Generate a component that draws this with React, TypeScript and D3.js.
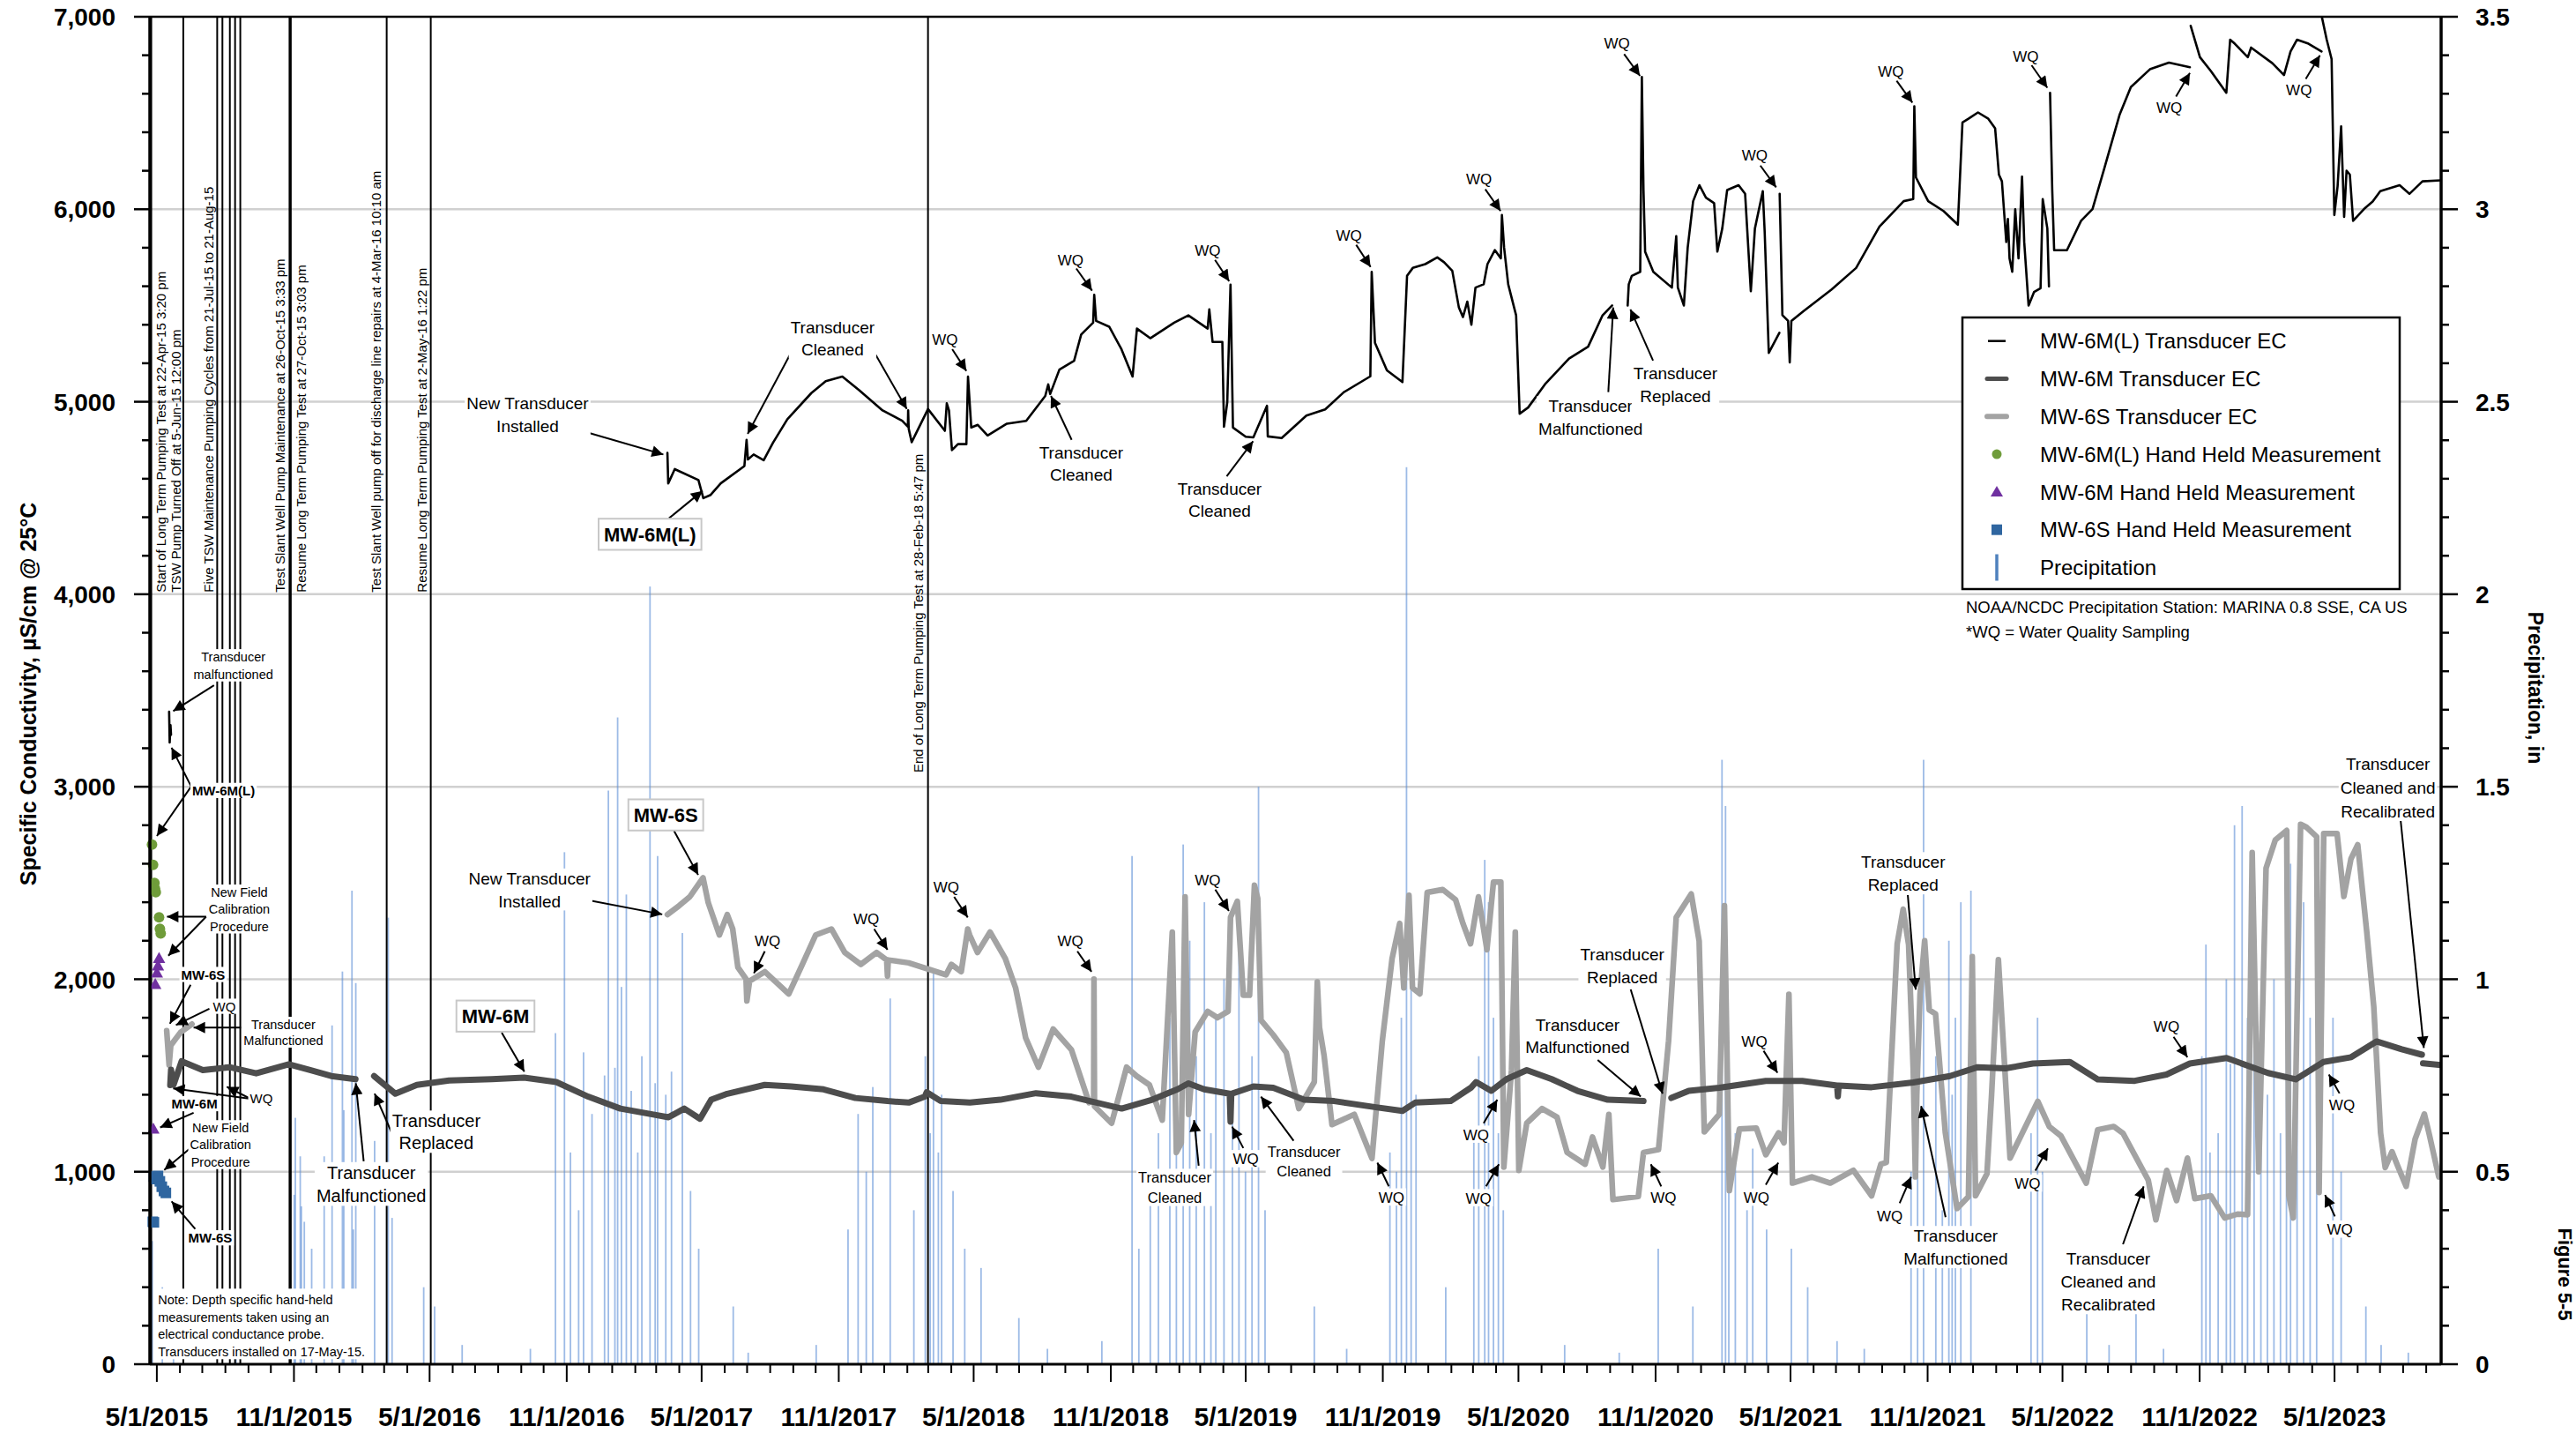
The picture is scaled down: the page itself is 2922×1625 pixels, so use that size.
import React from "react";
import * as d3 from "d3";

type P = [number, number] | null;

// ---------- DATA (dates as decimal years) ----------
const MW6ML_EC: P[] = [
  [2015.374, 3390], [2015.376, 3230], [2015.379, 3320], [2015.381, 3270], null,
  [2017.203, 4734], [2017.206, 4576], [2017.230, 4650], [2017.317, 4593], [2017.335, 4499], [2017.362, 4516],
  [2017.399, 4576], [2017.486, 4666], [2017.494, 4802], [2017.499, 4700], [2017.520, 4726], [2017.557, 4696],
  [2017.591, 4787], [2017.644, 4909], [2017.732, 5045], [2017.785, 5107], [2017.846, 5131], [2017.907, 5061],
  [2017.994, 4955], [2018.066, 4901], [2018.087, 4870], [2018.088, 4955], [2018.090, 4860], [2018.101, 4790],
  [2018.161, 4962], [2018.223, 4849], [2018.230, 4992], [2018.238, 4955], [2018.249, 4749], [2018.271, 4780],
  [2018.302, 4780], [2018.308, 5131], [2018.320, 4866], [2018.344, 4880], [2018.380, 4825], [2018.451, 4886],
  [2018.522, 4901], [2018.592, 5030], [2018.603, 5090], [2018.610, 5040], [2018.644, 5167], [2018.698, 5213],
  [2018.724, 5349], [2018.768, 5411], [2018.772, 5555], [2018.779, 5420], [2018.827, 5390], [2018.872, 5273],
  [2018.913, 5131], [2018.929, 5380], [2018.978, 5330], [2019.066, 5411], [2019.118, 5449], [2019.189, 5380],
  [2019.195, 5480], [2019.207, 5311], [2019.243, 5311], [2019.249, 4870], [2019.261, 4997], [2019.273, 5608],
  [2019.282, 4866], [2019.329, 4818], [2019.357, 4815], [2019.407, 4979], [2019.410, 4820], [2019.461, 4811],
  [2019.552, 4928], [2019.621, 4960], [2019.690, 5050], [2019.787, 5132], [2019.792, 5675], [2019.804, 5306],
  [2019.848, 5163], [2019.905, 5102], [2019.922, 5654], [2019.943, 5695], [2019.989, 5715], [2020.033, 5750],
  [2020.058, 5725], [2020.088, 5680], [2020.112, 5491], [2020.127, 5440], [2020.143, 5520], [2020.158, 5400],
  [2020.173, 5593], [2020.203, 5610], [2020.217, 5715], [2020.244, 5788], [2020.266, 5745], [2020.270, 5970],
  [2020.278, 5800], [2020.293, 5610], [2020.322, 5449], [2020.335, 4938], [2020.366, 4970], [2020.428, 5091],
  [2020.516, 5224], [2020.586, 5286], [2020.639, 5449], [2020.674, 5500], null,
  [2020.731, 5500], [2020.735, 5610], [2020.746, 5654], [2020.777, 5675], [2020.783, 6687], [2020.789, 6100],
  [2020.795, 5779], [2020.825, 5675], [2020.893, 5593], [2020.909, 5860], [2020.915, 5593], [2020.937, 5500],
  [2020.951, 5800], [2020.971, 6042], [2020.994, 6125], [2021.018, 6060], [2021.048, 6032], [2021.060, 5780],
  [2021.078, 5900], [2021.096, 6100], [2021.138, 6125], [2021.162, 6080], [2021.183, 5574], [2021.198, 5900],
  [2021.227, 6094], [2021.234, 5880], [2021.249, 5254], [2021.288, 5358], null,
  [2021.289, 6080], [2021.299, 5450], [2021.320, 5420], [2021.326, 5204], [2021.332, 5420], [2021.376, 5470],
  [2021.480, 5583], [2021.570, 5695], [2021.656, 5910], [2021.745, 6042], [2021.780, 6053], [2021.784, 6535],
  [2021.790, 6165], [2021.835, 6042], [2021.891, 5991], [2021.944, 5920], [2021.961, 6451], [2021.983, 6470],
  [2022.018, 6503], [2022.056, 6470], [2022.081, 6421], [2022.095, 6180], [2022.106, 6145], [2022.122, 5830],
  [2022.128, 5950], [2022.134, 5745], [2022.144, 5675], [2022.155, 6000], [2022.167, 5745], [2022.180, 6170],
  [2022.188, 5830], [2022.204, 5500], [2022.224, 5570], [2022.248, 5590], [2022.256, 6053], [2022.273, 5900],
  [2022.279, 5600], null,
  [2022.283, 6605], [2022.291, 6100], [2022.298, 5787], [2022.345, 5787], [2022.397, 5940], [2022.439, 6001],
  [2022.482, 6210], [2022.539, 6493], [2022.580, 6635], [2022.650, 6727], [2022.720, 6762], [2022.797, 6738], null,
  [2022.800, 6953], [2022.834, 6790], [2022.874, 6718], [2022.931, 6605], [2022.945, 6881], [2022.962, 6860],
  [2023.010, 6790], [2023.022, 6840], [2023.100, 6759], [2023.143, 6697], [2023.167, 6820], [2023.191, 6881],
  [2023.233, 6860], [2023.281, 6820], null,
  [2023.282, 7000], [2023.300, 6881], [2023.318, 6780], [2023.328, 5970], [2023.340, 6120], [2023.353, 6431],
  [2023.364, 5960], [2023.373, 6200], [2023.385, 6180], [2023.397, 5940], [2023.437, 6001], [2023.469, 6040],
  [2023.497, 6094], [2023.568, 6125], [2023.604, 6080], [2023.652, 6145], [2023.720, 6150],
];

const MW6M_EC: P[] = [
  [2015.378, 1450], [2015.381, 1530], [2015.390, 1451], [2015.420, 1574], [2015.498, 1528], [2015.596, 1543],
  [2015.694, 1511], [2015.814, 1558], [2015.892, 1528], [2015.970, 1497], [2016.059, 1481], null,
  [2016.127, 1497], [2016.166, 1451], [2016.205, 1405], [2016.284, 1451], [2016.402, 1474], [2016.559, 1481],
  [2016.677, 1489], [2016.795, 1466], [2016.912, 1390], [2017.030, 1328], [2017.147, 1298], [2017.207, 1283],
  [2017.265, 1328], [2017.323, 1275], [2017.364, 1374], [2017.423, 1405], [2017.561, 1451], [2017.658, 1443],
  [2017.777, 1428], [2017.894, 1383], [2018.012, 1367], [2018.090, 1359], [2018.149, 1390], [2018.156, 1413],
  [2018.208, 1367], [2018.315, 1359], [2018.427, 1374], [2018.558, 1408], [2018.688, 1390], [2018.873, 1328],
  [2018.985, 1374], [2019.078, 1428], [2019.118, 1459], [2019.176, 1428], [2019.270, 1405], [2019.273, 1260],
  [2019.276, 1405], [2019.357, 1443], [2019.430, 1436], [2019.543, 1374], [2019.654, 1367], [2019.802, 1336],
  [2019.905, 1316], [2019.952, 1359], [2020.082, 1367], [2020.156, 1436], [2020.175, 1466], [2020.231, 1420],
  [2020.287, 1481], [2020.361, 1528], [2020.453, 1481], [2020.547, 1420], [2020.658, 1374], [2020.789, 1367], null,
  [2020.891, 1383], [2020.955, 1420], [2021.067, 1436], [2021.238, 1472], [2021.372, 1472], [2021.500, 1448],
  [2021.503, 1391], [2021.506, 1448], [2021.627, 1439], [2021.780, 1464], [2021.915, 1497], [2022.017, 1543],
  [2022.119, 1537], [2022.220, 1562], [2022.356, 1570], [2022.458, 1480], [2022.594, 1472], [2022.711, 1505],
  [2022.797, 1562], [2022.932, 1591], [2023.084, 1513], [2023.186, 1480], [2023.288, 1570], [2023.390, 1595],
  [2023.483, 1677], [2023.576, 1636], [2023.650, 1608], null,
  [2023.654, 1563], [2023.720, 1554],
];

const MW6S_EC: P[] = [
  [2015.365, 1733], [2015.374, 1554], [2015.380, 1656], [2015.416, 1724], [2015.458, 1767], null,
  [2017.203, 2336], [2017.246, 2382], [2017.285, 2428], [2017.334, 2527], [2017.353, 2398], [2017.394, 2230],
  [2017.423, 2336], [2017.443, 2261], [2017.462, 2062], [2017.492, 2001], [2017.495, 1887], [2017.505, 1990],
  [2017.561, 2039], [2017.649, 1924], [2017.699, 2077], [2017.748, 2230], [2017.806, 2261], [2017.855, 2139],
  [2017.914, 2077], [2017.972, 2139], [2018.009, 2100], [2018.012, 2016], [2018.015, 2100], [2018.090, 2085],
  [2018.227, 2023], [2018.247, 2077], [2018.283, 2039], [2018.307, 2261], [2018.314, 2230], [2018.343, 2139],
  [2018.389, 2245], [2018.445, 2108], [2018.483, 1955], [2018.520, 1695], [2018.567, 1543], [2018.621, 1741],
  [2018.688, 1634], [2018.753, 1359], [2018.770, 1370], [2018.771, 2001], [2018.773, 1340], [2018.836, 1252],
  [2018.891, 1543], [2018.928, 1497], [2018.975, 1451], [2019.022, 1268], [2019.059, 2245], [2019.074, 1100],
  [2019.092, 1150], [2019.106, 2428], [2019.119, 1298], [2019.143, 1726], [2019.189, 1833], [2019.225, 1800],
  [2019.264, 1833], [2019.273, 2321], [2019.298, 2405], [2019.320, 1917], [2019.343, 1917], [2019.361, 2489],
  [2019.373, 2420], [2019.385, 1787], [2019.430, 1711], [2019.478, 1619], [2019.524, 1328], [2019.581, 1466],
  [2019.592, 1986], [2019.600, 1750], [2019.617, 1603], [2019.646, 1245], [2019.728, 1298], [2019.793, 1069],
  [2019.831, 1680], [2019.867, 2108], [2019.895, 2290], [2019.910, 1955], [2019.929, 2436], [2019.942, 1955],
  [2019.969, 1924], [2019.996, 2451], [2020.053, 2466], [2020.100, 2413], [2020.127, 2290], [2020.155, 2184],
  [2020.184, 2428], [2020.215, 2153], [2020.239, 2505], [2020.266, 2505], [2020.277, 1024], [2020.305, 1527],
  [2020.319, 2245], [2020.332, 1007], [2020.361, 1252], [2020.417, 1328], [2020.472, 1283], [2020.509, 1100],
  [2020.575, 1039], [2020.602, 1180], [2020.640, 1024], [2020.662, 1298], [2020.677, 855], [2020.770, 871],
  [2020.789, 1100], [2020.844, 1115], [2020.881, 1680], [2020.909, 2321], [2020.964, 2443], [2020.993, 2199],
  [2021.012, 1207], [2021.067, 1298], [2021.086, 2382], [2021.104, 902], [2021.141, 1222], [2021.203, 1227],
  [2021.238, 1088], [2021.285, 1202], [2021.305, 1150], [2021.323, 1922], [2021.336, 941], [2021.407, 973],
  [2021.475, 941], [2021.560, 1007], [2021.627, 875], [2021.661, 1039], [2021.681, 1048], [2021.721, 2184],
  [2021.743, 2364], [2021.763, 2180], [2021.780, 1529], [2021.788, 973], [2021.793, 1400], [2021.805, 1922],
  [2021.822, 2200], [2021.839, 1840], [2021.862, 1820], [2021.898, 1202], [2021.941, 809], [2021.983, 870],
  [2021.997, 2118], [2022.009, 875], [2022.051, 989], [2022.068, 1400], [2022.093, 2102], [2022.136, 1071],
  [2022.238, 1366], [2022.280, 1235], [2022.323, 1186], [2022.416, 941], [2022.458, 1218], [2022.517, 1235],
  [2022.551, 1200], [2022.644, 956], [2022.672, 750], [2022.712, 1007], [2022.748, 850], [2022.788, 1071],
  [2022.815, 860], [2022.874, 875], [2022.925, 760], [2022.972, 780], [2023.009, 777], [2023.026, 2658],
  [2023.050, 1000], [2023.077, 2577], [2023.111, 2724], [2023.153, 2773], [2023.161, 875], [2023.177, 760],
  [2023.204, 2805], [2023.225, 2790], [2023.263, 2740], [2023.272, 892], [2023.289, 2757], [2023.338, 2757],
  [2023.363, 2430], [2023.389, 2625], [2023.414, 2699], [2023.447, 2249], [2023.473, 1857], [2023.498, 1202],
  [2023.515, 1022], [2023.540, 1104], [2023.561, 1030], [2023.592, 924], [2023.625, 1170], [2023.659, 1300],
  [2023.676, 1200], [2023.712, 973],
];

const MW6ML_HAND: [number, number][] = [
  [2015.311, 2699], [2015.315, 2594], [2015.320, 2500], [2015.322, 2470], [2015.325, 2452],
  [2015.337, 2322], [2015.340, 2262], [2015.343, 2238],
];
const MW6M_HAND: [number, number][] = [
  [2015.337, 2110], [2015.333, 2071], [2015.329, 2034], [2015.323, 1974], [2015.316, 1223],
];
const MW6S_HAND: [number, number][] = [
  [2015.318, 975], [2015.325, 962], [2015.333, 978], [2015.340, 950], [2015.347, 922],
  [2015.355, 900], [2015.362, 890], [2015.314, 740], [2015.318, 737],
];

const PRECIP: [number, number][] = [
  [2015.312, 0.32], [2015.349, 0.2], [2015.39, 0.03], [2015.62, 0.02], [2015.834, 0.44], [2015.838, 0.64],
  [2015.856, 0.54], [2015.860, 0.41], [2015.871, 0.37], [2015.898, 0.3], [2015.944, 0.54], [2015.973, 0.88],
  [2016.011, 1.02], [2016.016, 0.66], [2016.046, 1.23], [2016.051, 0.35], [2016.060, 0.99], [2016.129, 0.58],
  [2016.179, 1.16], [2016.193, 0.38], [2016.309, 0.2], [2016.349, 0.15], [2016.45, 0.05], [2016.70, 0.04],
  [2016.792, 0.86], [2016.825, 1.33], [2016.847, 0.55], [2016.877, 0.4], [2016.895, 0.81], [2016.926, 0.65],
  [2016.972, 0.75], [2016.986, 1.49], [2017.010, 0.77], [2017.020, 1.68], [2017.034, 0.98], [2017.052, 1.22],
  [2017.070, 0.71], [2017.094, 0.55], [2017.109, 0.8], [2017.139, 2.02], [2017.158, 0.73], [2017.167, 1.32],
  [2017.197, 0.7], [2017.218, 0.76], [2017.258, 1.12], [2017.288, 0.45], [2017.318, 0.3], [2017.445, 0.15],
  [2017.50, 0.03], [2017.75, 0.05], [2017.867, 0.35], [2017.904, 0.65], [2017.934, 0.5], [2017.958, 0.72],
  [2018.022, 0.95], [2018.109, 0.4], [2018.151, 0.8], [2018.169, 0.6], [2018.181, 1.02], [2018.199, 0.55],
  [2018.211, 0.7], [2018.253, 0.45], [2018.296, 0.3], [2018.356, 0.25], [2018.495, 0.12], [2018.60, 0.04],
  [2018.80, 0.06], [2018.911, 1.32], [2018.936, 0.3], [2018.978, 0.45], [2019.008, 0.6], [2019.050, 0.9],
  [2019.074, 0.7], [2019.099, 1.35], [2019.123, 1.1], [2019.147, 0.8], [2019.177, 1.2], [2019.201, 0.6],
  [2019.219, 0.9], [2019.249, 1.0], [2019.280, 0.7], [2019.304, 1.1], [2019.328, 0.5], [2019.352, 0.8],
  [2019.376, 1.5], [2019.400, 0.4], [2019.581, 0.15], [2019.70, 0.04], [2019.859, 0.55], [2019.883, 0.5],
  [2019.901, 0.9], [2019.920, 2.33], [2019.937, 1.0], [2019.955, 0.7], [2020.064, 0.2], [2020.167, 0.6],
  [2020.185, 0.8], [2020.207, 1.31], [2020.221, 1.2], [2020.239, 0.9], [2020.257, 0.6], [2020.275, 0.4],
  [2020.50, 0.05], [2020.70, 0.03], [2020.843, 0.3], [2020.970, 0.15], [2021.077, 1.57], [2021.090, 1.45],
  [2021.102, 0.5], [2021.126, 0.6], [2021.169, 0.4], [2021.190, 0.56], [2021.241, 0.35], [2021.332, 0.3],
  [2021.392, 0.2], [2021.50, 0.06], [2021.60, 0.04], [2021.772, 0.5], [2021.796, 0.9], [2021.818, 1.57],
  [2021.863, 0.8], [2021.887, 0.4], [2021.911, 1.1], [2021.923, 0.7], [2021.935, 0.9], [2021.955, 1.2],
  [2021.992, 1.23], [2022.213, 0.6], [2022.237, 0.9], [2022.255, 0.5], [2022.418, 0.2], [2022.50, 0.05],
  [2022.599, 0.2], [2022.70, 0.04], [2022.841, 0.8], [2022.856, 1.09], [2022.871, 0.55], [2022.901, 0.6],
  [2022.931, 1.0], [2022.946, 0.78], [2022.961, 1.4], [2022.989, 1.45], [2023.009, 0.9], [2023.033, 1.2],
  [2023.058, 0.8], [2023.082, 0.7], [2023.106, 1.0], [2023.130, 0.6], [2023.152, 0.9], [2023.167, 1.3],
  [2023.191, 1.1], [2023.215, 1.2], [2023.239, 0.9], [2023.263, 0.7], [2023.323, 0.9], [2023.353, 0.5],
  [2023.444, 0.15], [2023.50, 0.05], [2023.60, 0.03],
];

type Ev = { date: string; w: number; label?: string; dx?: number; v?: number };
const EVENTS: Ev[] = [
  { date: "2015-04-22T15:20", w: 3.5, label: "Start of Long Term Pumping Test at 22-Apr-15 3:20 pm", dx: 12 },
  { date: "2015-06-05T12:00", w: 2, label: "TSW Pump Turned Off at 5-Jun-15 12:00 pm", dx: -8 },
  { date: "2015-07-21T00:00", w: 2, label: "Five TSW Maintenance Pumping Cycles from 21-Jul-15 to 21-Aug-15", dx: -9 },
  { date: "2015-07-28T00:00", w: 2 },
  { date: "2015-08-07T00:00", w: 2 },
  { date: "2015-08-14T00:00", w: 2 },
  { date: "2015-08-21T00:00", w: 2 },
  { date: "2015-10-26T15:33", w: 3, label: "Test Slant Well Pump Maintenance at 26-Oct-15 3:33 pm", dx: -11 },
  { date: "2015-10-27T15:03", w: 2, label: "Resume Long Term Pumping Test at 27-Oct-15 3:03 pm", dx: 12 },
  { date: "2016-03-04T10:10", w: 2, label: "Test Slant Well pump off for discharge line repairs at 4-Mar-16 10:10 am", dx: -11.5 },
  { date: "2016-05-02T13:22", w: 2, label: "Resume Long Term Pumping Test at 2-May-16 1:22 pm", dx: -10 },
  { date: "2018-02-28T17:47", w: 2, label: "End of Long Term Pumping Test at 28-Feb-18 5:47 pm", dx: -11, v: 3074 },
];

type Ann = { t: number; v: number; lines: string[]; size: number; bold?: boolean; box?: boolean; lh?: number; arrows?: number[][] };
const ANNOTATIONS: Ann[] = [
  { t: 2015.610, v: 3675, lines: ["Transducer", "malfunctioned"], size: 14.5, lh: 20, arrows: [[2015.539, 3527, 2015.389, 3393]] },
  { t: 2015.574, v: 2979, lines: ["MW-6M(L)"], size: 15, bold: true, arrows: [[2015.455, 3001, 2015.383, 3203], [2015.455, 3001, 2015.329, 2744]] },
  { t: 2015.632, v: 2452, lines: ["New Field", "Calibration", "Procedure"], size: 14.5, lh: 19.4, arrows: [[2015.510, 2325, 2015.366, 2325], [2015.510, 2325, 2015.371, 2122]] },
  { t: 2015.499, v: 2023, lines: ["MW-6S"], size: 15, bold: true, arrows: [[2015.453, 1971, 2015.377, 1769]] },
  { t: 2015.577, v: 1858, lines: ["WQ"], size: 15, arrows: [[2015.522, 1847, 2015.399, 1762]] },
  { t: 2015.794, v: 1765, lines: ["Transducer", "Malfunctioned"], size: 14.5, lh: 18.3, arrows: [[2015.638, 1749, 2015.464, 1749]] },
  { t: 2015.713, v: 1379, lines: ["WQ"], size: 15, arrows: [[2015.673, 1379, 2015.389, 1433], [2015.673, 1379, 2015.586, 1441]] },
  { t: 2015.467, v: 1352, lines: ["MW-6M"], size: 15, bold: true, arrows: [[2015.464, 1306, 2015.341, 1230]] },
  { t: 2015.563, v: 1228, lines: ["New Field", "Calibration", "Procedure"], size: 14.5, lh: 19.4, arrows: [[2015.447, 1117, 2015.356, 1009]] },
  { t: 2015.525, v: 655, lines: ["MW-6S"], size: 15, bold: true, arrows: [[2015.470, 703, 2015.383, 846]] },
  { t: 2016.117, v: 995, lines: ["Transducer", "Malfunctioned"], size: 20, lh: 26.6, arrows: [[2016.089, 1054, 2016.060, 1460]] },
  { t: 2016.355, v: 1263, lines: ["Transducer", "Replaced"], size: 20, lh: 25, arrows: [[2016.193, 1198, 2016.129, 1406]] },
  { t: 2016.690, v: 4994, lines: ["New Transducer", "Installed"], size: 19, lh: 26, arrows: [[2016.871, 4856, 2017.188, 4726]] },
  { t: 2017.810, v: 5388, lines: ["Transducer", "Cleaned"], size: 19, lh: 25, arrows: [[2017.653, 5243, 2017.498, 4833], [2017.969, 5243, 2018.083, 4962]] },
  { t: 2017.139, v: 4309, lines: ["MW-6M(L)"], size: 22, bold: true, box: true, arrows: [[2017.209, 4395, 2017.332, 4537]] },
  { t: 2018.223, v: 5322, lines: ["WQ"], size: 17, arrows: [[2018.250, 5273, 2018.302, 5160]] },
  { t: 2018.685, v: 5737, lines: ["WQ"], size: 17, arrows: [[2018.706, 5692, 2018.764, 5577]] },
  { t: 2018.724, v: 4737, lines: ["Transducer", "Cleaned"], size: 19, lh: 25, arrows: [[2018.689, 4802, 2018.613, 5030]] },
  { t: 2019.189, v: 5788, lines: ["WQ"], size: 17, arrows: [[2019.216, 5737, 2019.268, 5626]] },
  { t: 2019.233, v: 4546, lines: ["Transducer", "Cleaned"], size: 19, lh: 25, arrows: [[2019.259, 4613, 2019.356, 4795]] },
  { t: 2019.708, v: 5865, lines: ["WQ"], size: 17, arrows: [[2019.735, 5815, 2019.788, 5700]] },
  { t: 2020.186, v: 6159, lines: ["WQ"], size: 17, arrows: [[2020.209, 6104, 2020.265, 5991]] },
  { t: 2020.692, v: 6864, lines: ["WQ"], size: 17, arrows: [[2020.718, 6806, 2020.776, 6693]] },
  { t: 2020.595, v: 4976, lines: ["Transducer", "Malfunctioned"], size: 19, lh: 26, arrows: [[2020.660, 5050, 2020.678, 5490]] },
  { t: 2020.906, v: 5147, lines: ["Transducer", "Replaced"], size: 19, lh: 25.5, arrows: [[2020.824, 5214, 2020.741, 5480]] },
  { t: 2021.197, v: 6279, lines: ["WQ"], size: 17, arrows: [[2021.218, 6227, 2021.276, 6114]] },
  { t: 2021.698, v: 6718, lines: ["WQ"], size: 17, arrows: [[2021.719, 6667, 2021.777, 6554]] },
  { t: 2022.194, v: 6795, lines: ["WQ"], size: 17, arrows: [[2022.215, 6748, 2022.273, 6631]] },
  { t: 2022.721, v: 6529, lines: ["WQ"], size: 17, arrows: [[2022.746, 6585, 2022.797, 6708]] },
  { t: 2023.198, v: 6620, lines: ["WQ"], size: 17, arrows: [[2023.223, 6677, 2023.275, 6800]] },
  { t: 2017.197, v: 2851, lines: ["MW-6S"], size: 22, bold: true, box: true, arrows: [[2017.227, 2772, 2017.316, 2542]] },
  { t: 2016.697, v: 2523, lines: ["New Transducer", "Installed"], size: 19, lh: 25.7, arrows: [[2016.903, 2413, 2017.184, 2337]] },
  { t: 2017.571, v: 2197, lines: ["WQ"], size: 17, arrows: [[2017.561, 2145, 2017.521, 2031]] },
  { t: 2017.934, v: 2313, lines: ["WQ"], size: 17, arrows: [[2017.963, 2261, 2018.012, 2153]] },
  { t: 2018.228, v: 2478, lines: ["WQ"], size: 17, arrows: [[2018.257, 2428, 2018.307, 2321]] },
  { t: 2016.572, v: 1806, lines: ["MW-6M"], size: 22, bold: true, box: true, arrows: [[2016.595, 1723, 2016.678, 1520]] },
  { t: 2018.684, v: 2199, lines: ["WQ"], size: 17, arrows: [[2018.710, 2145, 2018.762, 2039]] },
  { t: 2019.189, v: 2516, lines: ["WQ"], size: 17, arrows: [[2019.217, 2466, 2019.267, 2355]] },
  { t: 2019.068, v: 970, lines: ["Transducer", "Cleaned"], size: 16.5, lh: 23.3, arrows: [[2019.156, 1031, 2019.139, 1268]] },
  { t: 2019.329, v: 1066, lines: ["WQ"], size: 17, arrows: [[2019.320, 1123, 2019.279, 1234]] },
  { t: 2019.543, v: 1104, lines: ["Transducer", "Cleaned"], size: 16.5, lh: 22.6, arrows: [[2019.505, 1161, 2019.385, 1390]] },
  { t: 2019.865, v: 867, lines: ["WQ"], size: 17, arrows: [[2019.855, 924, 2019.813, 1047]] },
  { t: 2020.175, v: 1193, lines: ["WQ"], size: 17, arrows: [[2020.203, 1252, 2020.253, 1374]] },
  { t: 2020.184, v: 863, lines: ["WQ"], size: 17, arrows: [[2020.212, 924, 2020.259, 1039]] },
  { t: 2020.547, v: 1762, lines: ["Transducer", "Malfunctioned"], size: 19, lh: 25, arrows: [[2020.621, 1580, 2020.779, 1390]] },
  { t: 2020.711, v: 2130, lines: ["Transducer", "Replaced"], size: 19, lh: 26.5, arrows: [[2020.742, 1947, 2020.859, 1405]] },
  { t: 2020.862, v: 867, lines: ["WQ"], size: 17, arrows: [[2020.854, 924, 2020.816, 1039]] },
  { t: 2021.196, v: 1676, lines: ["WQ"], size: 17, arrows: [[2021.230, 1628, 2021.281, 1514]] },
  { t: 2021.204, v: 866, lines: ["WQ"], size: 17, arrows: [[2021.238, 932, 2021.284, 1047]] },
  { t: 2021.743, v: 2608, lines: ["Transducer", "Replaced"], size: 19, lh: 26, arrows: [[2021.760, 2437, 2021.789, 1946]] },
  { t: 2021.694, v: 768, lines: ["WQ"], size: 17, arrows: [[2021.730, 837, 2021.772, 973]] },
  { t: 2021.936, v: 666, lines: ["Transducer", "Malfunctioned"], size: 19, lh: 26, arrows: [[2021.899, 764, 2021.809, 1341]] },
  { t: 2022.200, v: 939, lines: ["WQ"], size: 17, arrows: [[2022.229, 1006, 2022.275, 1121]] },
  { t: 2022.497, v: 546, lines: ["Transducer", "Cleaned and", "Recalibrated"], size: 19, lh: 26, arrows: [[2022.551, 623, 2022.627, 924]] },
  { t: 2022.711, v: 1755, lines: ["WQ"], size: 17, arrows: [[2022.737, 1701, 2022.788, 1595]] },
  { t: 2023.356, v: 1346, lines: ["WQ"], size: 17, arrows: [[2023.347, 1407, 2023.308, 1505]] },
  { t: 2023.348, v: 700, lines: ["WQ"], size: 17, arrows: [[2023.330, 768, 2023.294, 879]] },
  { t: 2023.525, v: 3116, lines: ["Transducer", "Cleaned and", "Recalibrated"], size: 19, lh: 26.6, arrows: [[2023.572, 2822, 2023.657, 1643]] },
];

const NOTE_LINES = [
  "Note: Depth specific hand-held",
  "measurements taken using an",
  "electrical conductance probe.",
  "Transducers installed on 17-May-15.",
];
const LEGEND_ITEMS = [
  "MW-6M(L) Transducer EC",
  "MW-6M Transducer EC",
  "MW-6S Transducer EC",
  "MW-6M(L) Hand Held Measurement",
  "MW-6M Hand Held Measurement",
  "MW-6S Hand Held Measurement",
  "Precipitation",
];
const Y_TICKS = [0, 1000, 2000, 3000, 4000, 5000, 6000, 7000];
const YR_TICKS = [0, 0.5, 1, 1.5, 2, 2.5, 3, 3.5];

// ---------- helpers ----------
function dyr(t: number): Date {
  const y = Math.floor(t);
  const a = Date.UTC(y, 0, 1), b = Date.UTC(y + 1, 0, 1);
  return new Date(a + (t - y) * (b - a));
}
const FS = "'Liberation Sans', Arial, sans-serif";
let ctx: CanvasRenderingContext2D | null = null;
function measure(s: string, size: number, bold: boolean, fam: string) {
  if (!ctx) ctx = document.createElement("canvas").getContext("2d");
  if (!ctx) return s.length * size * 0.5;
  ctx.font = `${bold ? "bold " : ""}${size}px ${fam}`;
  return ctx.measureText(s).width;
}
function hasNarrow() {
  const a = measure("abcdefghWMQ0123", 40, true, "'Liberation Sans Narrow', monospace");
  const b = measure("abcdefghWMQ0123", 40, true, "monospace");
  return Math.abs(a - b) > 1;
}

const L = 170, R = 2769, T = 19, B = 1547;

export default function App() {
  const narrow = hasNarrow();
  const FN = narrow ? "'Liberation Sans Narrow', 'Arial Narrow', sans-serif" : FS;
  const x = d3.scaleUtc().domain([new Date(Date.UTC(2015, 3, 21, 16)), new Date(Date.UTC(2023, 8, 21))]).range([L, R]);
  const y = d3.scaleLinear().domain([0, 7000]).range([B, T]);
  const yR = d3.scaleLinear().domain([0, 3.5]).range([B, T]);
  const X = (t: number) => x(dyr(t));
  const line = d3.line<P>().defined((d) => d != null).x((d) => X(d![0])).y((d) => y(d![1]));
  const parse = d3.utcParse("%Y-%m-%dT%H:%M");

  const months = d3.utcMonth.range(new Date(Date.UTC(2015, 4, 1)), new Date(Date.UTC(2023, 8, 21)));
  const majors = months.filter((m) => m.getUTCMonth() === 4 || m.getUTCMonth() === 10);
  const fmt = (d: Date) => `${d.getUTCMonth() + 1}/${d.getUTCDate()}/${d.getUTCFullYear()}`;
  const minorY = d3.range(0, 7001, 200);
  const minorYR = d3.range(0, 3.501, 0.1);

  const arrows: JSX.Element[] = [];
  const labels: JSX.Element[] = [];
  ANNOTATIONS.forEach((a, i) => {
    const cx = X(a.t), cy = y(a.v);
    const lh = a.lh ?? a.size * 1.3;
    const w = Math.max(...a.lines.map((s) => measure(s, a.size, !!a.bold, FS)));
    const h = (a.lines.length - 1) * lh + a.size * 1.15;
    (a.arrows || []).forEach((ar, j) => {
      arrows.push(
        <line key={`ar${i}-${j}`} x1={X(ar[0])} y1={y(ar[1])} x2={X(ar[2])} y2={y(ar[3])} stroke="#000" strokeWidth={2} markerEnd="url(#ah)" />
      );
    });
    const pad = a.box ? 6 : 2;
    labels.push(
      <g key={`lb${i}`}>
        <rect x={cx - w / 2 - pad} y={cy - a.size * 0.6 - (a.box ? 5 : 0)} width={w + pad * 2} height={h + (a.box ? 10 : 0)}
          fill="#fff" stroke={a.box ? "#c8c8c8" : "none"} strokeWidth={a.box ? 2 : 0} />
        {a.lines.map((s, k) => (
          <text key={k} x={cx} y={cy + k * lh} dy="0.35em" textAnchor="middle" fontFamily={FS}
            fontSize={a.size} fontWeight={a.bold ? "bold" : "normal"} fill="#000">{s}</text>
        ))}
      </g>
    );
  });

  const legX = 2226, legY = 360, legW = 496, legH = 308;
  const rowY = (i: number) => legY + 26.7 + i * 42.8;
  const symX = 2265;

  const noteX = X(2015.333), noteY = y(333);

  return (
    <svg width={2922} height={1625} style={{ position: "absolute", left: 0, top: 0, background: "#fff" }}>
      <defs>
        <marker id="ah" viewBox="0 0 10 10" refX="10" refY="5" markerWidth="7.5" markerHeight="6.5" orient="auto">
          <path d="M0,0 L10,5 L0,10 z" fill="#000" />
        </marker>
        <clipPath id="plot"><rect x={L} y={T} width={R - L} height={B - T} /></clipPath>
      </defs>
      <rect x={0} y={0} width={2922} height={1625} fill="#fff" />

      {/* gridlines */}
      {Y_TICKS.slice(1, -1).map((v) => (
        <line key={`g${v}`} x1={L} x2={R} y1={y(v)} y2={y(v)} stroke="#d0d0d0" strokeWidth={2.5} />
      ))}

      {/* precipitation */}
      <g clipPath="url(#plot)">
        {PRECIP.map(([t, p], i) => (
          <rect key={`p${i}`} x={X(t) - 0.9} y={yR(p)} width={1.8} height={B - yR(p)} fill="#5b8ed6" fillOpacity={0.6} />
        ))}
      </g>

      {/* event lines */}
      {EVENTS.map((e, i) => {
        const xe = x(parse(e.date)!);
        return <line key={`ev${i}`} x1={xe} x2={xe} y1={T} y2={B} stroke="#000" strokeWidth={e.w} />;
      })}

      {/* series */}
      <g clipPath="url(#plot)" fill="none" strokeLinejoin="round" strokeLinecap="round">
        <path d={line(MW6S_EC) || ""} stroke="#a3a3a3" strokeWidth={6.5} />
        <path d={line(MW6M_EC) || ""} stroke="#4d4d4d" strokeWidth={7} />
        <path d={line(MW6ML_EC) || ""} stroke="#000" strokeWidth={2.6} />
      </g>

      {/* hand held */}
      {MW6ML_HAND.map(([t, v], i) => (
        <circle key={`hg${i}`} cx={X(t)} cy={y(v)} r={6} fill="#6f9c3a" />
      ))}
      {MW6M_HAND.map(([t, v], i) => {
        const cx = X(t), cy = y(v);
        return <path key={`ht${i}`} d={`M${cx},${cy - 7} L${cx + 7},${cy + 5.5} L${cx - 7},${cy + 5.5} Z`} fill="#7030a0" />;
      })}
      {MW6S_HAND.map(([t, v], i) => (
        <rect key={`hs${i}`} x={X(t) - 6} y={y(v) - 6} width={12} height={12} fill="#2f66a0" />
      ))}

      {/* event labels */}
      {EVENTS.filter((e) => e.label).map((e, i) => {
        const xe = x(parse(e.date)!) + (e.dx || 0);
        const yb = y(e.v ?? 4010);
        return (
          <g key={`el${i}`}>
            <text transform={`translate(${xe + 5},${yb}) rotate(-90)`} fontFamily={FS} fontSize={15} fill="#000">{e.label}</text>
          </g>
        );
      })}

      {/* note box */}
      <rect x={noteX - 2} y={noteY - 13} width={238} height={80} fill="#fff" />
      {NOTE_LINES.map((s, i) => (
        <text key={`n${i}`} x={noteX} y={noteY + i * 19.5} dy="0.35em" fontFamily={FS} fontSize={14.5} fill="#000">{s}</text>
      ))}

      {/* annotations */}
      {arrows}
      {labels}

      {/* axes frame */}
      <line x1={L} x2={R} y1={T} y2={T} stroke="#000" strokeWidth={2.5} />
      <line x1={L} x2={R} y1={B} y2={B} stroke="#000" strokeWidth={3} />
      <line x1={L} x2={L} y1={T} y2={B} stroke="#000" strokeWidth={3.5} />
      <line x1={R} x2={R} y1={T} y2={B} stroke="#000" strokeWidth={3.5} />

      {/* left y axis */}
      {minorY.map((v) => (
        <line key={`my${v}`} x1={v % 1000 === 0 ? L - 18 : L - 9} x2={L} y1={y(v)} y2={y(v)} stroke="#000" strokeWidth={2.5} />
      ))}
      {Y_TICKS.map((v) => (
        <text key={`yl${v}`} x={131} y={y(v)} dy="0.36em" textAnchor="end" fontFamily={FS} fontWeight="bold" fontSize={28} fill="#000">
          {d3.format(",")(v)}
        </text>
      ))}
      {/* right y axis */}
      {minorYR.map((v, i) => (
        <line key={`mr${i}`} x1={R} x2={i % 5 === 0 ? R + 19 : R + 9} y1={yR(v)} y2={yR(v)} stroke="#000" strokeWidth={2.5} />
      ))}
      {YR_TICKS.map((v) => (
        <text key={`rl${v}`} x={2808} y={yR(v)} dy="0.36em" textAnchor="start" fontFamily={FS} fontWeight="bold" fontSize={28} fill="#000">
          {String(v)}
        </text>
      ))}
      {/* x axis */}
      {months.map((m, i) => {
        const isMajor = m.getUTCMonth() === 4 || m.getUTCMonth() === 10;
        return <line key={`xt${i}`} x1={x(m)} x2={x(m)} y1={B} y2={B + (isMajor ? 20 : 10)} stroke="#000" strokeWidth={2} />;
      })}
      {majors.map((m, i) => (
        <text key={`xl${i}`} x={x(m)} y={1617} textAnchor="middle" fontFamily={FN} fontWeight="bold" fontSize={narrow ? 36 : 30} fill="#000">
          {fmt(m)}
        </text>
      ))}

      {/* axis titles */}
      <text transform={`translate(41,787) rotate(-90)`} textAnchor="middle" fontFamily={FN} fontWeight="bold" fontSize={narrow ? 29 : 25} fill="#000">
        Specific Conductivity, µS/cm @ 25°C
      </text>
      <text transform={`translate(2868,780) rotate(90)`} textAnchor="middle" fontFamily={FN} fontWeight="bold" fontSize={narrow ? 27 : 23} fill="#000">
        Precipitation, in
      </text>
      <text transform={`translate(2902,1445) rotate(90)`} textAnchor="middle" fontFamily={FS} fontWeight="bold" fontSize={22} fill="#000">
        Figure 5-5
      </text>

      {/* legend */}
      <rect x={legX} y={legY} width={legW} height={legH} fill="#fff" stroke="#000" strokeWidth={2.5} />
      {LEGEND_ITEMS.map((s, i) => (
        <text key={`lg${i}`} x={2314} y={rowY(i)} dy="0.36em" fontFamily={FS} fontSize={24} fill="#000">{s}</text>
      ))}
      <line x1={symX - 10} x2={symX + 10} y1={rowY(0)} y2={rowY(0)} stroke="#000" strokeWidth={2.5} />
      <line x1={symX - 11} x2={symX + 11} y1={rowY(1)} y2={rowY(1)} stroke="#4d4d4d" strokeWidth={5} strokeLinecap="round" />
      <line x1={symX - 11} x2={symX + 11} y1={rowY(2)} y2={rowY(2)} stroke="#a3a3a3" strokeWidth={6} strokeLinecap="round" />
      <circle cx={symX} cy={rowY(3)} r={5.5} fill="#6f9c3a" />
      <path d={`M${symX},${rowY(4) - 7} L${symX + 7},${rowY(4) + 5} L${symX - 7},${rowY(4) + 5} Z`} fill="#7030a0" />
      <rect x={symX - 6} y={rowY(5) - 6} width={12} height={12} fill="#2f66a0" />
      <line x1={symX} x2={symX} y1={rowY(6) - 15} y2={rowY(6) + 15} stroke="#4f81bd" strokeWidth={3.5} />

      <text x={2230} y={688} dy="0.36em" fontFamily={FS} fontSize={18.5} fill="#000">NOAA/NCDC Precipitation Station: MARINA 0.8 SSE, CA US</text>
      <text x={2230} y={716} dy="0.36em" fontFamily={FS} fontSize={18.5} fill="#000">*WQ = Water Quality Sampling</text>
    </svg>
  );
}
